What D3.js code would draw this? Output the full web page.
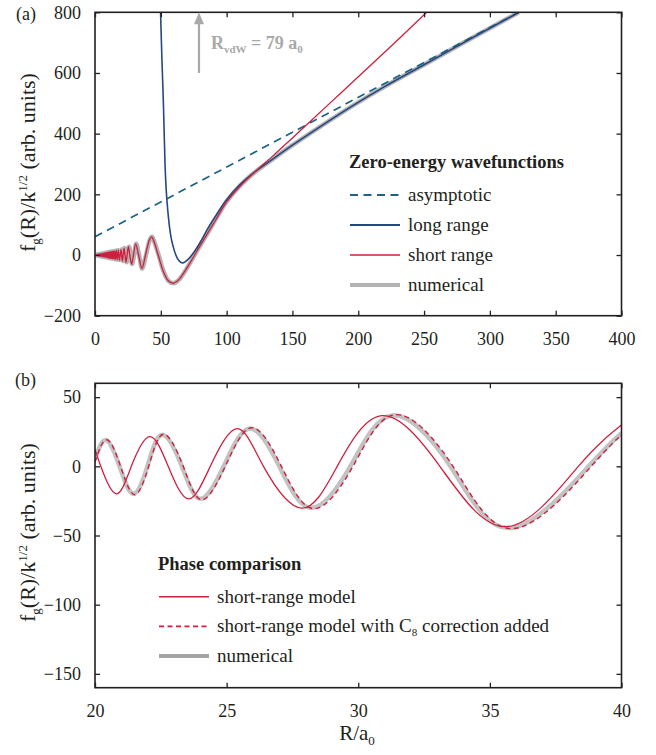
<!DOCTYPE html>
<html>
<head>
<meta charset="utf-8">
<script src="https://cdn.jsdelivr.net/npm/d3@7/dist/d3.min.js"></script>
<style>
  body { margin: 0; background: #fff; }
  svg text { font-family: "Liberation Serif", "DejaVu Serif", serif; fill: #231f20; }
</style>
</head>
<body>
<svg id="fig" width="656" height="755"></svg>
<script>
// ---------- data: panel (a), zero-energy wavefunctions ----------
const topXTicks = [0, 50, 100, 150, 200, 250, 300, 350, 400];
const topYTicks = [-200, 0, 200, 400, 600, 800];

// rapid inner oscillations (R < 20 a0), shared by the short-range and numerical curves
const innerWedge = [
  [0.3, 0], [0.6, -0.5], [0.85, 0.8], [1.1, -1.0], [1.35, 1.2], [1.6, -1.4], [1.85, 1.7], [2.1, -1.9],
  [2.35, 2.1], [2.6, -2.3], [2.85, 2.6], [3.1, -2.8], [3.35, 3.0], [3.6, -3.2], [3.85, 3.5], [4.1, -3.7],
  [4.35, 3.9], [4.6, -4.1], [4.85, 4.4], [5.1, -4.6], [5.35, 4.8], [5.6, -5.0], [5.85, 5.3], [6.1, -5.5],
  [6.35, 5.7], [6.6, -5.9], [6.85, 6.2], [7.1, -6.4], [7.35, 6.6], [7.6, -6.8], [7.85, 7.1], [8.1, -7.3],
  [8.35, 7.5], [8.6, -7.7], [8.85, 8.0], [9.1, -8.2], [9.35, 8.4], [9.6, -8.6], [9.85, 8.8], [10.07, -9.0],
  [10.21, 9.1], [10.36, -9.3], [10.52, 9.4], [10.69, -9.6], [10.87, 9.7], [11.06, -9.9], [11.26, 10.1],
  [11.47, -10.3], [11.70, 10.5], [11.94, -10.7], [12.19, 10.9], [12.46, -11.2], [12.75, 11.4], [13.06, -11.7],
  [13.40, 12.0], [13.77, -12.4], [14.17, 12.7], [14.61, -13.1], [15.09, 13.6], [15.62, -14.0], [16.22, 14.6],
  [16.90, -15.2], [17.67, 15.9], [18.57, -16.7], [19.68, 17.7]
];
const numericalJoin = [[18.95, -16.8]];

// short-range model beyond 40 a0
const shortRangeOuter = [
  [41.5, 52], [43.0, 60], [44.6, 47], [48.0, 0], [52, -55], [55.5, -84], [59.5, -93], [63.5, -82],
  [68, -55], [73, -20], [77, 10], [80, 32], [85, 68], [92, 118], [100, 175], [110, 226], [120, 268],
  [135, 326], [150, 386], [160, 426], [186, 531], [220, 668], [252, 800]
];
// numerical solution beyond 40 a0
const numericalOuter = [
  [41.6, 50], [43.2, 60], [44.8, 47], [48.3, 0], [52.2, -55], [55.8, -85], [59.7, -93], [63.7, -82],
  [68.2, -55], [73, -20], [77, 10], [80, 32], [85, 68], [92, 120], [100, 177], [110, 228], [120, 268],
  [135, 316], [150, 362], [170, 420], [195, 490], [220, 555], [250, 627], [285, 712], [322, 800]
];
// long-range (van der Waals) solution
const longRange = [
  [49.8, 800], [50.8, 650], [51.9, 510], [53.2, 300], [55.7, 128], [57.5, 65], [59.5, 26], [62.5, -10],
  [66.8, -26], [70.5, -15], [75, 8], [80, 42], [85, 82], [92, 131], [100, 182], [110, 231], [120, 269],
  [135, 316], [150, 362], [170, 420], [195, 490], [220, 555], [250, 627], [285, 712], [322, 800]
];
// asymptotic straight line
const asymptotic = [[0, 60], [322, 800]];
const rVdW = 79;
const rVdWArrow = [600, 800];

// ---------- data: panel (b), phase comparison ----------
const botXTicks = [20, 25, 30, 35, 40];
const botYTicks = [-150, -100, -50, 0, 50];

const shortRangeModel = [
  [20, 12], [20.22, 0], [20.79, -19.8], [21.38, 0], [22.08, 21.5], [22.78, 0], [23.55, -23.5],
  [24.38, 0], [25.39, 27.2], [26.4, 0], [27.85, -30.2], [29.2, 0], [30.9, 36.6], [33.1, 0],
  [35.64, -43.6], [38.36, 0], [40, 29.8]
];
const c8Corrected = [
  [20, 3], [20.45, 19.2], [20.97, 0], [21.5, -20.5], [22.04, 0], [22.6, 23.2], [23.35, 0],
  [24.05, -24.2], [24.95, 0], [25.95, 27.9], [27.08, 0], [28.3, -30.6], [29.8, 0], [31.4, 37.3],
  [33.6, 0], [35.9, -45], [38.85, 0], [40, 22.6]
];
const numericalNear = [
  [20, 5], [20.42, 19], [20.93, 0], [21.45, -19.8], [21.99, 0], [22.55, 22.8], [23.3, 0], [24.0, -23.5],
  [24.89, 0], [25.88, 27.4], [27.0, 0], [28.2, -30], [29.7, 0], [31.3, 36.8], [33.5, 0],
  [35.78, -44.6], [38.75, 0], [40, 24]
];

const legendTopTitle = "Zero-energy wavefunctions";
const legendTopLabels = ["asymptotic", "long range", "short range", "numerical"];
const legendBotTitle = "Phase comparison";
const legendBotLabels = ["short-range model", "short-range model with C", "numerical"];

// ---------- styles ----------
const RED = "#cf1f3f", NAVY = "#25487f", TEAL = "#1b6385", GREY = "#b3b3b3", INK = "#231f20";
const styles = {
  asymptotic: { stroke: TEAL, width: 1.7, dash: "8,5.5" },
  long: { stroke: NAVY, width: 1.6, dash: null },
  short: { stroke: RED, width: 1.3, dash: null },
  numerical: { stroke: GREY, width: 4.5, dash: null },
  c8: { stroke: RED, width: 1.4, dash: "5,3.5" }
};
const smooth = d3.curveCatmullRom.alpha(0.5);

// ---------- layout ----------
const svg = d3.select("#fig");
const L = 95, R = 621.5;
const xTop = d3.scaleLinear().domain([0, 400]).range([L, R]);
const yTop = d3.scaleLinear().domain([-200, 800]).range([315.7, 12.3]);
const xBot = d3.scaleLinear().domain([20, 40]).range([L, R]);
const yBot = d3.scaleLinear().domain([-160, 60]).range([687.7, 383.3]);

const defs = svg.append("defs");
function clip(id, x, y) {
  defs.append("clipPath").attr("id", id).append("rect")
    .attr("x", x.range()[0]).attr("y", y.range()[1])
    .attr("width", x.range()[1] - x.range()[0]).attr("height", y.range()[0] - y.range()[1]);
}
clip("clipTop", xTop, yTop);
clip("clipBot", xBot, yBot);

function axes(x, y, xt, yt) {
  const g = svg.append("g");
  const h = y.range()[0] - y.range()[1];
  const w = x.range()[1] - x.range()[0];
  g.append("g").attr("transform", `translate(0,${y.range()[0]})`)
    .call(d3.axisBottom(x).tickValues(xt).tickSizeInner(-5).tickSizeOuter(0).tickPadding(17));
  g.append("g").attr("transform", `translate(0,${y.range()[1]})`)
    .call(d3.axisTop(x).tickValues(xt).tickSizeInner(-5).tickSizeOuter(0).tickFormat(""));
  g.append("g").attr("transform", `translate(${x.range()[0]},0)`)
    .call(d3.axisLeft(y).tickValues(yt).tickSizeInner(-5).tickSizeOuter(0).tickPadding(14));
  g.append("g").attr("transform", `translate(${x.range()[1]},0)`)
    .call(d3.axisRight(y).tickValues(yt).tickSizeInner(-5).tickSizeOuter(0).tickFormat(""));
  g.selectAll(".domain").remove();
  g.selectAll(".tick line").attr("stroke", INK).attr("stroke-width", 1.3);
  g.selectAll(".tick text").attr("font-size", 18).attr("font-family", "Liberation Serif").attr("fill", INK);
  g.append("rect").attr("x", x.range()[0]).attr("y", y.range()[1]).attr("width", w).attr("height", h)
    .attr("fill", "none").attr("stroke", INK).attr("stroke-width", 1.6);
  return g;
}

function drawLine(g, data, x, y, st, curve) {
  const line = d3.line().x(d => x(d[0])).y(d => y(d[1])).curve(curve || smooth);
  g.append("path").datum(data).attr("d", line)
    .attr("fill", "none").attr("stroke", st.stroke).attr("stroke-width", st.width)
    .attr("stroke-dasharray", st.dash).attr("stroke-linejoin", "round").attr("stroke-linecap", "butt");
}

function yLabel(cx, cy) {
  const t = svg.append("text").attr("transform", `translate(${cx},${cy}) rotate(-90)`)
    .attr("font-size", 22);
  t.append("tspan").text("f");
  t.append("tspan").attr("font-size", 13).attr("dy", 5).text("g");
  t.append("tspan").attr("dy", -5).text("(R)/k");
  t.append("tspan").attr("font-size", 13).attr("dy", -8).text("1/2");
  t.append("tspan").attr("dy", 8).text(" (arb. units)");
}

// ---------- panel (a) ----------
const gTop = svg.append("g").attr("clip-path", "url(#clipTop)");
drawLine(gTop, innerWedge.filter(d => d[0] < 18).concat(numericalJoin, numericalNear, numericalOuter),
  xTop, yTop, styles.numerical);
drawLine(gTop, asymptotic, xTop, yTop, styles.asymptotic, d3.curveLinear);
drawLine(gTop, longRange, xTop, yTop, styles.long, d3.curveMonotoneX);
drawLine(gTop, innerWedge.concat(shortRangeModel, shortRangeOuter), xTop, yTop, styles.short);
axes(xTop, yTop, topXTicks, topYTicks);

// van der Waals length marker
const ax = xTop(rVdW);
svg.append("line").attr("x1", ax).attr("x2", ax)
  .attr("y1", yTop(rVdWArrow[0])).attr("y2", yTop(rVdWArrow[1]) + 10)
  .attr("stroke", "#a9a9a9").attr("stroke-width", 2.2);
svg.append("path")
  .attr("d", `M${ax},${yTop(rVdWArrow[1])} L${ax - 5},${yTop(rVdWArrow[1]) + 12} L${ax + 5},${yTop(rVdWArrow[1]) + 12} Z`)
  .attr("fill", "#a9a9a9");
const an = svg.append("text").attr("x", ax + 12).attr("y", 49).attr("font-size", 18)
  .attr("font-weight", "bold").style("fill", "#a9a9a9");
an.append("tspan").text("R");
an.append("tspan").attr("font-size", 11).attr("dy", 4).text("vdW");
an.append("tspan").attr("dy", -4).text(" = 79 a");
an.append("tspan").attr("font-size", 11).attr("dy", 4).text("0");

svg.append("text").attr("x", 16).attr("y", 20).attr("font-size", 18).text("(a)");
yLabel(35, 252);

// legend (a)
svg.append("text").attr("x", 349).attr("y", 168).attr("font-size", 18.5).attr("font-weight", "bold")
  .text(legendTopTitle);
const topKeys = ["asymptotic", "long", "short", "numerical"];
legendTopLabels.forEach((lab, i) => {
  const cy = 195 + i * 30;
  const st = styles[topKeys[i]];
  svg.append("line").attr("x1", 350).attr("x2", 400).attr("y1", cy).attr("y2", cy)
    .attr("stroke", st.stroke).attr("stroke-width", topKeys[i] === "numerical" ? 4 : st.width + 0.3)
    .attr("stroke-dasharray", st.dash);
  svg.append("text").attr("x", 408).attr("y", cy + 6).attr("font-size", 19).text(lab);
});

// ---------- panel (b) ----------
const gBot = svg.append("g").attr("clip-path", "url(#clipBot)");
drawLine(gBot, numericalNear, xBot, yBot, { stroke: "#c2c2c2", width: 4.5, dash: null }, d3.curveNatural);
drawLine(gBot, shortRangeModel, xBot, yBot, styles.short, d3.curveNatural);
drawLine(gBot, c8Corrected, xBot, yBot, styles.c8, d3.curveNatural);
axes(xBot, yBot, botXTicks, botYTicks);

svg.append("text").attr("x", 15).attr("y", 386).attr("font-size", 18).text("(b)");
yLabel(35, 622);

const xl = svg.append("text").attr("x", 357).attr("y", 740).attr("text-anchor", "middle").attr("font-size", 21);
xl.append("tspan").text("R/a");
xl.append("tspan").attr("font-size", 13).attr("dy", 5).text("0");

// legend (b)
svg.append("text").attr("x", 158).attr("y", 570).attr("font-size", 18.5).attr("font-weight", "bold")
  .text(legendBotTitle);
const botKeys = ["short", "c8", "numerical"];
legendBotLabels.forEach((lab, i) => {
  const cy = 596.7 + i * 29.7;
  const st = botKeys[i] === "numerical" ? { stroke: "#a3a3a3", width: 4, dash: null } : styles[botKeys[i]];
  svg.append("line").attr("x1", 159).attr("x2", 209).attr("y1", cy).attr("y2", cy)
    .attr("stroke", st.stroke).attr("stroke-width", st.width + (botKeys[i] === "numerical" ? 0 : 0.3))
    .attr("stroke-dasharray", st.dash);
  const t = svg.append("text").attr("x", 217).attr("y", cy + 6).attr("font-size", 19).text(lab);
  if (botKeys[i] === "c8") {
    t.append("tspan").attr("font-size", 11).attr("dy", 4).text("8");
    t.append("tspan").attr("dy", -4).text(" correction added");
  }
});
</script>
</body>
</html>
